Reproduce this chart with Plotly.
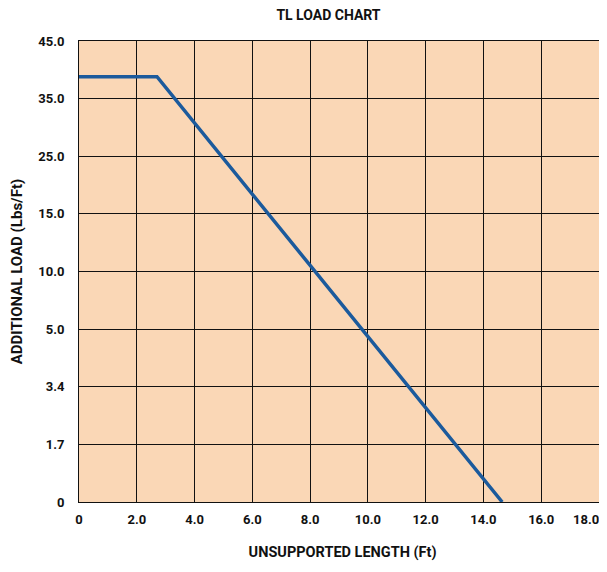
import numpy as np
import plotly.graph_objects as go

# Data
length_ft = [0.0, 2.7, 14.65]          # unsupported length (Ft)
load_lbs = [38.8, 38.8, 0.0]           # additional load (Lbs/Ft)
x_ticks = [0, 2, 4, 6, 8, 10, 12, 14, 16, 18]
x_tick_labels = ["0", "2.0", "4.0", "6.0", "8.0", "10.0", "12.0", "14.0", "16.0", "18.0"]
y_tick_values = [0, 1.7, 3.4, 5.0, 10.0, 15.0, 25.0, 35.0, 45.0]
y_tick_labels = ["0", "1.7", "3.4", "5.0", "10.0", "15.0", "25.0", "35.0", "45.0"]

# The chart's y scale is piecewise: each labelled value is equally spaced
y_index = list(range(len(y_tick_values)))
y_pos = np.interp(load_lbs, y_tick_values, y_index)

FONT = "Roboto, Arial"

x_text = [f"<b>{t}</b>" for t in x_tick_labels]
# last label sits against the right edge: pad it so it stays inside the page
x_text[-1] = x_text[-1] + "\u00a0" * 8

fig = go.Figure()
fig.add_trace(go.Scatter(
    x=length_ft, y=y_pos, mode="lines",
    line=dict(color="#1B5A9C", width=3.5),
    showlegend=False, hoverinfo="skip",
))

fig.update_layout(
    width=599, height=556,
    margin=dict(l=71, r=8, t=33, b=62, autoexpand=False),
    paper_bgcolor="white",
    plot_bgcolor="#FAD7B6",
    title=dict(text="<b>TL LOAD CHART</b>", x=0.535, xanchor="center", y=0.988, yanchor="middle",
               font=dict(family=FONT, size=14, color="#111")),
    font=dict(family=FONT, color="#111"),
)
fig.update_xaxes(
    range=[0, 18], tickvals=x_ticks, ticktext=x_text,
    tickfont=dict(size=13), showgrid=True, gridcolor="#111", gridwidth=1,
    showline=True, linecolor="#111", linewidth=1, mirror=True, zeroline=False,
    ticks="outside", ticklen=5, tickcolor="rgba(0,0,0,0)", automargin=False,
    ticklabeloverflow="allow",
    title=dict(text="<b>\u00a0\u00a0UNSUPPORTED LENGTH (Ft)</b>", font=dict(size=14.5), standoff=21),
)
fig.update_yaxes(
    range=[0, 8], tickvals=y_index, ticktext=[f"<b>{t}</b>" for t in y_tick_labels],
    tickfont=dict(size=13), showgrid=True, gridcolor="#111", gridwidth=1,
    showline=True, linecolor="#111", linewidth=1, mirror=True, zeroline=False,
    ticks="outside", ticklen=11, tickcolor="rgba(0,0,0,0)", automargin=False,
    ticklabeloverflow="allow",
    title=dict(text="<b>ADDITIONAL LOAD (Lbs/Ft)</b>", font=dict(size=15), standoff=12),
)

fig.write_html("out.html")
